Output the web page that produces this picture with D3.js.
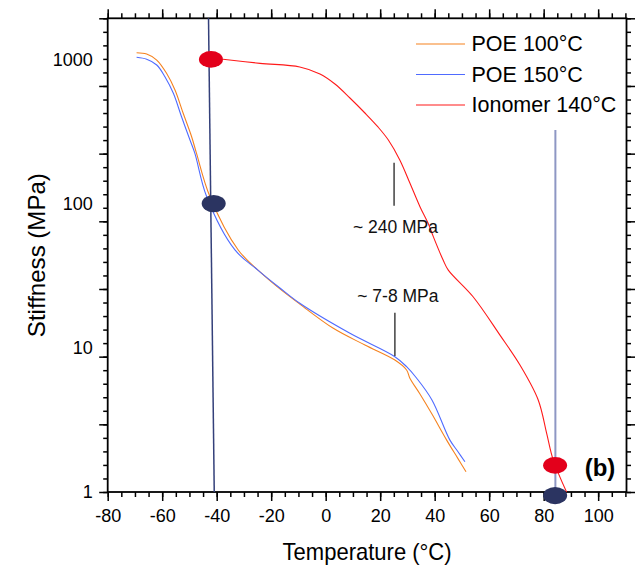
<!DOCTYPE html>
<html><head><meta charset="utf-8">
<script src="https://cdn.jsdelivr.net/npm/d3@7/dist/d3.min.js"></script>
<style>
html,body{margin:0;padding:0;background:#fff;}
svg{display:block;font-family:"Liberation Sans",Arial,sans-serif;}
</style></head>
<body><svg id="chart" width="641" height="566"></svg>
<script>
// ---- data ----
const seriesNames = ["POE 100°C", "POE 150°C", "Ionomer 140°C"];
const seriesColors = ["#f5821f", "#4f6bff", "#ff1a1a"];

const poe100T = [-69.4,-65.7,-62.0,-58.4,-55.3,-52.3,-49.2,-47.4,-42.5,-32.1,-24.1,-16.8,-9.5,2.8,14.4,25.4,29.7,30.9,34.6,39.0,44.4,48.5,51.5];
const poe100S = [1113,1090,990,801,613,423,291,223,112,47.7,33.6,25.6,20.1,13.65,10.46,8.23,7.02,6.15,4.78,3.47,2.29,1.71,1.38];

const poe150T = [-69.4,-65.7,-62.0,-59.0,-55.9,-52.9,-49.8,-48.0,-43.7,-33.3,-24.9,-16.8,-9.5,8.9,25.4,29.7,33.4,39.0,45.6,48.5,51.1];
const poe150S = [1034,1002,915,759,582,400,276,223,112,47.7,34.6,26.0,20.35,12.6,8.68,7.40,6.15,4.35,2.29,1.91,1.62];

const ionoT = [-37.7,-24.1,-9.5,-2.1,3.4,8.9,14.4,19.2,23.0,27.2,30.9,34.6,37.6,39.5,43.1,45.0,54.1,63.9,71.3,78.0,81.1,83.5,88.4];
const ionoS = [1002,939,886,792,675,540,425,340,276,201,139,95.2,73.0,59.0,40.6,34.6,22.6,12.3,7.6,4.35,2.55,1.67,1.0];

// vertical marker lines and dots
const markerLeftT = [-43.0, -40.9], markerLeftS = [1928, 1];
const markerRightT = [84.3, 84.3], markerRightS = [324, 1];
const redDotT = [-42.1, 84.2], redDotS = [1000, 1.53];
const navyDotT = [-41.1, 84.2], navyDotS = [100, 0.945];

// annotations
const annoText = ["~ 240 MPa", "~ 7-8 MPa"];
const annoLineT = [25.1, 25.4];
const annoLineS = [[192, 96.7], [17.5, 8.77]];
const annoTextT = [25.6, 26.5];
const annoTextS = [62.8, 20.7];

const xMajorTicks = d3.range(-80, 101, 20);
const xMinorTicks = d3.range(-80, 111, 5);
const yLabelTicks = [1, 10, 100, 1000];

// ---- scales ----
const svg = d3.select("#chart");
const L = 107.7, R = 626.5, T = 18.3, B = 492;
const x = d3.scaleLinear().domain([-80, 110.4]).range([L, R]);
const y = d3.scaleLog().domain([1, 1928]).range([B, T]);
const yTk = d3.scaleLinear().domain([0, 35]).range([B, T]); // tick-mark grid of the original

svg.append("defs").append("clipPath").attr("id","clip")
  .append("rect").attr("x",L).attr("y",T).attr("width",R-L).attr("height",B-T);

// ---- axes ----
const axisG = svg.append("g");
function styleAxis(g){
  g.select(".domain").remove();
  g.selectAll(".tick line").attr("stroke","#000").attr("stroke-width",1.5);
  g.selectAll("text").attr("fill","#000").attr("font-family","'Liberation Sans',Arial,sans-serif");
}
const fmt = d => String(d);
// bottom
axisG.append("g").attr("transform",`translate(0,${B})`)
  .call(d3.axisBottom(x).tickValues(xMinorTicks).tickSize(5).tickFormat(""))
  .call(styleAxis);
axisG.append("g").attr("transform",`translate(0,${B})`)
  .call(d3.axisBottom(x).tickValues(xMajorTicks).tickSize(9).tickPadding(8).tickFormat(fmt))
  .call(styleAxis)
  .selectAll("text").attr("font-size",18);
// top
axisG.append("g").attr("transform",`translate(0,${T})`)
  .call(d3.axisTop(x).tickValues(xMinorTicks).tickSize(5).tickFormat("")).call(styleAxis);
axisG.append("g").attr("transform",`translate(0,${T})`)
  .call(d3.axisTop(x).tickValues(xMajorTicks).tickSize(9).tickFormat("")).call(styleAxis);
// left
const yMinor = d3.range(0, 36), yMajor = d3.range(0, 36, 5);
axisG.append("g").attr("transform",`translate(${L},0)`)
  .call(d3.axisLeft(yTk).tickValues(yMinor).tickSize(4.5).tickFormat("")).call(styleAxis);
axisG.append("g").attr("transform",`translate(${L},0)`)
  .call(d3.axisLeft(yTk).tickValues(yMajor).tickSize(8.5).tickFormat("")).call(styleAxis);
axisG.append("g").attr("transform",`translate(${L},0)`)
  .call(d3.axisLeft(y).tickValues(yLabelTicks).tickSize(0).tickPadding(15).tickFormat(fmt))
  .call(styleAxis)
  .selectAll("text").attr("font-size",18);
// right
axisG.append("g").attr("transform",`translate(${R},0)`)
  .call(d3.axisRight(yTk).tickValues(yMinor).tickSize(4.5).tickFormat("")).call(styleAxis);
axisG.append("g").attr("transform",`translate(${R},0)`)
  .call(d3.axisRight(yTk).tickValues(yMajor).tickSize(8.5).tickFormat("")).call(styleAxis);
// frame
axisG.append("rect").attr("x",L).attr("y",T).attr("width",R-L).attr("height",B-T)
  .attr("fill","none").attr("stroke","#000").attr("stroke-width",1.8);

// axis titles
svg.append("text").attr("x",(L+R)/2).attr("y",560).attr("text-anchor","middle")
  .attr("font-size",24).attr("textLength",169).attr("lengthAdjust","spacingAndGlyphs")
  .text("Temperature (°C)");
svg.append("text").attr("transform",`translate(45,${(T+B)/2}) rotate(-90)`).attr("text-anchor","middle")
  .attr("font-size",24).attr("textLength",164).attr("lengthAdjust","spacingAndGlyphs")
  .text("Stiffness (MPa)");

// ---- curves ----
const plot = svg.append("g").attr("clip-path","url(#clip)");
const line = d3.line().x(d=>x(d[0])).y(d=>y(d[1])).curve(d3.curveCatmullRom.alpha(0.5));
const series = [
  d3.zip(poe100T, poe100S),
  d3.zip(poe150T, poe150S),
  d3.zip(ionoT, ionoS)
];
series.forEach((s,i)=>{
  plot.append("path").datum(s).attr("d",line).attr("fill","none")
    .attr("stroke",seriesColors[i]).attr("stroke-width",1.1);
});

// annotations
annoText.forEach((t,i)=>{
  svg.append("line").attr("x1",x(annoLineT[i])).attr("x2",x(annoLineT[i]))
    .attr("y1",y(annoLineS[i][0])).attr("y2",y(annoLineS[i][1]))
    .attr("stroke","#333").attr("stroke-width",1.4);
  svg.append("text").attr("x",x(annoTextT[i])).attr("y",y(annoTextS[i]))
    .attr("text-anchor","middle").attr("font-size",17.5).attr("fill","#111").text(t);
});

// marker lines
const lineStraight = d3.line().x(d=>x(d[0])).y(d=>y(d[1]));
svg.append("path").datum(d3.zip(markerLeftT, markerLeftS)).attr("d",lineStraight)
  .attr("stroke","#34407a").attr("stroke-width",1.5).attr("fill","none");
svg.append("path").datum(d3.zip(markerRightT, markerRightS)).attr("d",lineStraight)
  .attr("stroke","#8e97c4").attr("stroke-width",2).attr("fill","none");

// dots
svg.selectAll(".rdot").data(d3.zip(redDotT, redDotS)).join("ellipse")
  .attr("cx",d=>x(d[0])).attr("cy",d=>y(d[1])).attr("rx",12).attr("ry",8.3).attr("fill","#e3001b");
svg.selectAll(".ndot").data(d3.zip(navyDotT, navyDotS)).join("ellipse")
  .attr("cx",d=>x(d[0])).attr("cy",d=>y(d[1])).attr("rx",12).attr("ry",8.6).attr("fill","#2b3461");

// panel label
svg.append("text").attr("x",600).attr("y",476).attr("text-anchor","middle")
  .attr("font-size",24).attr("font-weight","bold").text("(b)");

// legend
const leg = svg.append("g");
seriesNames.forEach((n,i)=>{
  const ly = 44 + i*30.5;
  leg.append("line").attr("x1",416).attr("x2",465).attr("y1",ly).attr("y2",ly)
    .attr("stroke",seriesColors[i]).attr("stroke-width",1.2);
  leg.append("text").attr("x",471.5).attr("y",ly).attr("dominant-baseline","central")
    .attr("font-size",21.5).text(n);
});
</script></body></html>
